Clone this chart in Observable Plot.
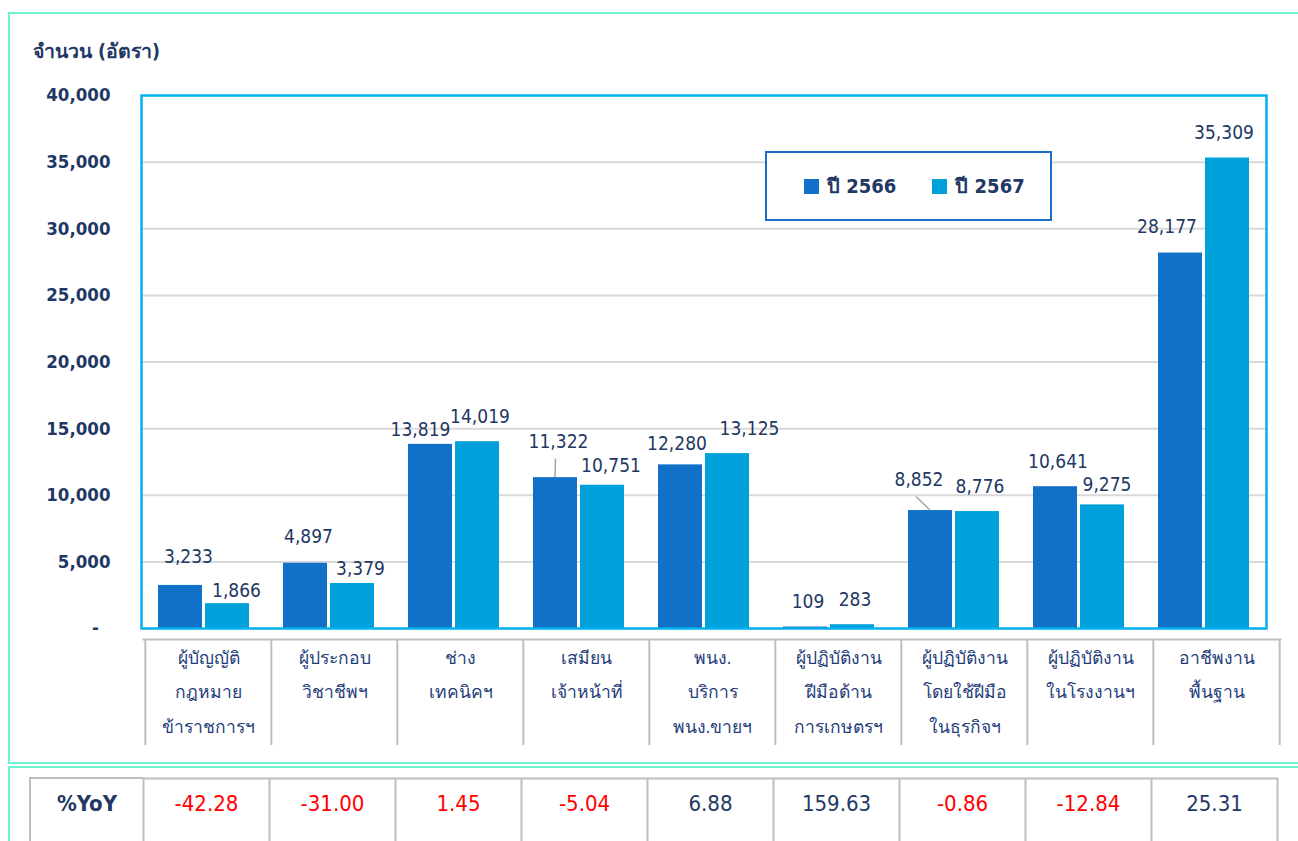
<!DOCTYPE html>
<html>
<head>
<meta charset="utf-8">
<script src="https://cdn.jsdelivr.net/npm/d3@7"></script>
<script src="https://cdn.jsdelivr.net/npm/@observablehq/plot@0.6"></script>
<style>
  html, body { margin: 0; padding: 0; background: #fff; }
  #wrap { position: relative; width: 1298px; height: 841px; overflow: hidden;
          font-family: Tahoma, "DejaVu Sans Condensed", "Noto Sans", sans-serif; color: #1f3864; }
  .abs { position: absolute; }
  .box { position: absolute; border: 2px solid #6ff3d3; box-sizing: border-box; }
  #title { left: 33px; top: 36px; font-size: 19.5px; font-weight: 700; color: #1f3864; }
  #legend { left: 765px; top: 151px; width: 287px; height: 70px; box-sizing: border-box;
            border: 2px solid #1a6ec6; background: #fff; display: flex; align-items: center;
            padding-left: 37px; gap: 0; font-size: 20px; font-weight: 700; color: #1f3864; }
  .sw { display: inline-block; width: 15px; height: 15px; margin-right: 8px; vertical-align: -1px; }
  .item { margin-right: 36px; white-space: nowrap; }
  #yoyLabel { left: 29px; top: 777px; width: 114px; height: 70px; box-sizing: border-box;
              border-left: 2px solid #bfbfbf; border-top: 2px solid #bfbfbf;
              text-align: center; padding-top: 12px; font-size: 22px; font-weight: 600; color: #1f3864; }
</style>
</head>
<body>
<div id="wrap">
  <div class="box" style="left:8px;top:12px;width:1300px;height:752px;"></div>
  <div class="box" style="left:8px;top:766px;width:1300px;height:100px;"></div>
  <div id="title" class="abs">จำนวน (อัตรา)</div>
  <div id="chart" class="abs" style="left:0;top:0;"></div>
  <div id="legend" class="abs"></div>
  <div id="cats" class="abs" style="left:0;top:638px;"></div>
  <div id="yoyLabel" class="abs">%YoY</div>
  <div id="yoy" class="abs" style="left:0;top:777px;"></div>
</div>
<script>
// ---------- data ----------
const categories = [
  "ผู้บัญญัติ\nกฎหมาย\nข้าราชการฯ",
  "ผู้ประกอบ\nวิชาชีพฯ",
  "ช่าง\nเทคนิคฯ",
  "เสมียน\nเจ้าหน้าที่",
  "พนง.\nบริการ\nพนง.ขายฯ",
  "ผู้ปฏิบัติงาน\nฝีมือด้าน\nการเกษตรฯ",
  "ผู้ปฏิบัติงาน\nโดยใช้ฝีมือ\nในธุรกิจฯ",
  "ผู้ปฏิบัติงาน\nในโรงงานฯ",
  "อาชีพงาน\nพื้นฐาน"
];
const seriesNames = ["ปี 2566", "ปี 2567"];
const values2566 = [3233, 4897, 13819, 11322, 12280, 109, 8852, 10641, 28177];
const values2567 = [1866, 3379, 14019, 10751, 13125, 283, 8776, 9275, 35309];
const yoyValues = [-42.28, -31.00, 1.45, -5.04, 6.88, 159.63, -0.86, -12.84, 25.31];
const yTicks = [0, 5000, 10000, 15000, 20000, 25000, 30000, 35000, 40000];

// ---------- styling ----------
const navy = "#1f3864";
const colors = ["#1170c8", "#00a0da"];
const font = 'Tahoma, "DejaVu Sans Condensed", "Noto Sans", sans-serif';
// per-label pixel nudges [dx, dy] (label centre relative to bar-top centre), as placed in the source
const labelNudge = [
  [[8,-29],[3,-26],[-10,-14],[3,-36],[-3.5,-21],[2.5,-25],[-11.5,-31],[2.5,-25],[-13.5,-26.5]],
  [[9,-13],[8,-15],[2.5,-25],[8.5,-19],[22,-25],[2.5,-25],[2.5,-25],[4.5,-20],[-3.5,-25.5]]
];
const leaderBars = [[0, 3], [0, 6]]; // [series, category index] that have a leader line
const barOffset = [-23.5, 23.5];

const rows = [];
[values2566, values2567].forEach((vals, s) => vals.forEach((v, i) => rows.push({
  cat: categories[i], series: seriesNames[s], s, i, value: v,
  dx: barOffset[s] + labelNudge[s][i][0], dy: labelNudge[s][i][1]
})));

const fmt = d3.format(",");

function leaderMark(index, scales) {
  const g = d3.create("svg:g");
  const xs = scales.x;
  const bw = typeof xs.bandwidth === "function" ? xs.bandwidth() : (xs.bandwidth || 0);
  for (const [s, i] of leaderBars) {
    const r = rows.find(d => d.s === s && d.i === i);
    const x0 = xs(r.cat) + bw / 2 + barOffset[s];
    const y0 = scales.y(r.value);
    g.append("line")
      .attr("x1", x0).attr("y1", y0)
      .attr("x2", x0 + labelNudge[s][i][0] - 2.5).attr("y2", y0 + r.dy + 17.5)
      .attr("stroke", "#a6a6a6").attr("stroke-width", 1.5);
  }
  return g.node();
}

const main = Plot.plot({
  width: 1298, height: 640,
  marginTop: 95, marginLeft: 141, marginRight: 32, marginBottom: 12,
  style: { fontFamily: font, fontSize: "18.5px", fontWeight: 600, color: navy, background: "transparent" },
  x: { type: "band", domain: categories, padding: 0, axis: null },
  y: { domain: [0, 40000], ticks: 8, tickSize: 0, tickPadding: 31, label: null,
       tickFormat: d => d === 0 ? "-\u00a0\u00a0" : fmt(d) },
  marks: [
    Plot.ruleY(yTicks.filter(t => t > 0 && t < 40000), { stroke: "#d9d9d9", strokeWidth: 2 }),
    Plot.barY(rows.filter(d => d.s === 0), { x: "cat", y: "value", fill: colors[0], insetLeft: 17, insetRight: 64 }),
    Plot.barY(rows.filter(d => d.s === 1), { x: "cat", y: "value", fill: colors[1], insetLeft: 64, insetRight: 17 }),
    leaderMark,
    ...rows.map(r => Plot.text([r], { x: "cat", y: "value", text: d => fmt(d.value), dx: r.dx, dy: r.dy,
      lineAnchor: "middle", fill: navy, fontSize: 19, fontWeight: 500 })),
    Plot.frame({ stroke: "#00b0f0", strokeWidth: 2.5 })
  ]
});
document.getElementById("chart").append(main);

// legend
const legend = document.getElementById("legend");
seriesNames.forEach((n, s) => {
  const it = document.createElement("span");
  it.className = "item";
  it.innerHTML = `<span class="sw" style="background:${colors[s]}"></span>${n}`;
  legend.append(it);
});

// category table (x axis)
const catW = (1298 - 143 - 18) / 9;
const catPlot = Plot.plot({
  width: 1298, height: 120,
  marginTop: 1, marginLeft: 143, marginRight: 18, marginBottom: 13,
  style: { fontFamily: font, fontSize: "17px", color: "#1f3d7a", background: "transparent" },
  x: { type: "band", domain: categories, padding: 0, axis: null },
  marks: [
    Plot.frame({ anchor: "top", stroke: "#bfbfbf", strokeWidth: 2 }),
    Plot.ruleX(categories, { x: d => d, dx: -catW / 2, stroke: "#bfbfbf", strokeWidth: 2 }),
    Plot.ruleX(categories.slice(-1), { x: d => d, dx: catW / 2, stroke: "#bfbfbf", strokeWidth: 2 }),
    Plot.text(categories, { x: d => d, text: d => d, frameAnchor: "top", lineAnchor: "top", dy: 0,
      lineHeight: 1.97, fill: "#1f3d7a", fontSize: 17.5 })
  ]
});
document.getElementById("cats").append(catPlot);

// %YoY table
const yoyW = (1298 - 143 - 21) / 9;
const yoyRows = categories.map((c, i) => ({ cat: c, v: yoyValues[i] }));
const yoyPlot = Plot.plot({
  width: 1298, height: 64,
  marginTop: 1, marginLeft: 143, marginRight: 21, marginBottom: 0,
  style: { fontFamily: font, fontSize: "22px", background: "transparent" },
  x: { type: "band", domain: categories, padding: 0, axis: null },
  marks: [
    Plot.frame({ anchor: "top", stroke: "#bfbfbf", strokeWidth: 2 }),
    Plot.ruleX(categories, { x: d => d, dx: -yoyW / 2, stroke: "#bfbfbf", strokeWidth: 2 }),
    Plot.ruleX(categories.slice(-1), { x: d => d, dx: yoyW / 2, stroke: "#bfbfbf", strokeWidth: 2 }),
    Plot.text(yoyRows, { x: "cat", text: d => d.v.toFixed(2), frameAnchor: "top", lineAnchor: "middle", dy: 25,
      fill: d => d.v < 5 ? "#ff0000" : navy, fontSize: 22, fontWeight: 500 })
  ]
});
document.getElementById("yoy").append(yoyPlot);
</script>
</body>
</html>
